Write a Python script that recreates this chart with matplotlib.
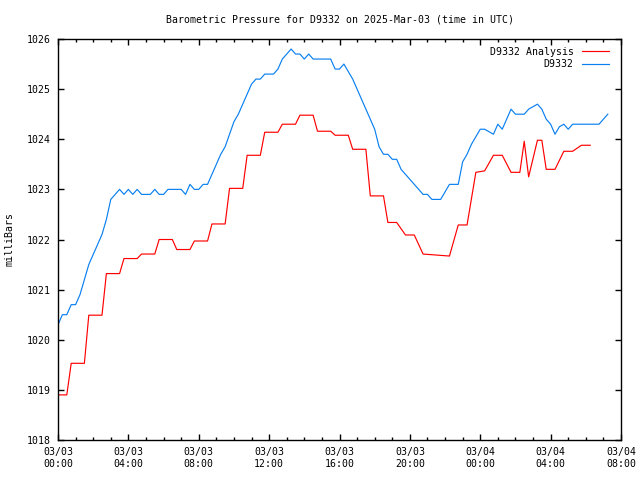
#!/usr/bin/env python3
"""
Barometric pressure, station D9332 - analysis vs observed, gnuplot-like look.
"""

import pandas as pd
import matplotlib
matplotlib.use("Agg")
import matplotlib.pyplot as plt
import matplotlib.dates as mdates

START = pd.Timestamp("2025-03-03 00:00")

# ---------------------------------------------------
# Data (hours since 2025-03-03 00:00 UTC, mb)
# ---------------------------------------------------
obs_hours = [0, 0.25, 0.5, 0.75, 1.0, 1.25, 1.5, 1.75, 2.0, 2.25, 2.5, 2.75, 3.0, 3.25,
             3.5, 3.75, 4.0, 4.25, 4.5, 4.75, 5.25, 5.5, 5.75, 6.0, 6.25, 7.0, 7.25, 7.5,
             7.75, 8.0, 8.25, 8.5, 8.75, 9.0, 9.25, 9.5, 9.75, 10.0, 10.25, 10.5, 10.75,
             11.0, 11.25, 11.5, 11.75, 12.25, 12.5, 12.75, 13.0, 13.25, 13.5, 13.75, 14.0,
             14.25, 14.5, 15.5, 15.75, 16.0, 16.25, 16.5, 16.75, 17.0, 17.25, 17.5, 17.75,
             18.0, 18.25, 18.5, 18.75, 19.0, 19.25, 19.5, 19.75, 20.0, 20.25, 20.5, 20.75,
             21.0, 21.25, 21.75, 22.0, 22.25, 22.75, 23.0, 23.25, 23.5, 23.75, 24.0, 24.25,
             24.5, 24.75, 25.0, 25.25, 25.5, 25.75, 26.0, 26.5, 26.75, 27.0, 27.25, 27.5,
             27.75, 28.0, 28.25, 28.5, 28.75, 29.0, 29.25, 30.75, 31.0, 31.25]
obs_mb = [1020.3, 1020.5, 1020.5, 1020.7, 1020.7, 1020.9, 1021.2, 1021.5, 1021.7, 1021.9,
          1022.1, 1022.4, 1022.8, 1022.9, 1023.0, 1022.9, 1023.0, 1022.9, 1023.0, 1022.9,
          1022.9, 1023.0, 1022.9, 1022.9, 1023.0, 1023.0, 1022.9, 1023.1, 1023.0, 1023.0,
          1023.1, 1023.1, 1023.3, 1023.5, 1023.7, 1023.85, 1024.1, 1024.35, 1024.5, 1024.7,
          1024.9, 1025.1, 1025.2, 1025.2, 1025.3, 1025.3, 1025.4, 1025.6, 1025.7, 1025.8,
          1025.7, 1025.7, 1025.6, 1025.7, 1025.6, 1025.6, 1025.4, 1025.4, 1025.5, 1025.35,
          1025.2, 1025.0, 1024.8, 1024.6, 1024.4, 1024.2, 1023.85, 1023.7, 1023.7, 1023.6,
          1023.6, 1023.4, 1023.3, 1023.2, 1023.1, 1023.0, 1022.9, 1022.9, 1022.8, 1022.8,
          1022.95, 1023.1, 1023.1, 1023.55, 1023.7, 1023.9, 1024.05, 1024.2, 1024.2,
          1024.15, 1024.1, 1024.3, 1024.2, 1024.4, 1024.6, 1024.5, 1024.5, 1024.6, 1024.65,
          1024.7, 1024.6, 1024.4, 1024.3, 1024.1, 1024.25, 1024.3, 1024.2, 1024.3, 1024.3,
          1024.4, 1024.5]

ana_hours = [0, 0.5, 0.75, 1.5, 1.75, 2.5, 2.75, 3.5, 3.75, 4.5, 4.75, 5.5, 5.75, 6.5, 6.75,
             7.5, 7.75, 8.5, 8.75, 9.5, 9.75, 10.5, 10.75, 11.5, 11.75, 12.5, 12.75, 13.5,
             13.75, 14.5, 14.75, 15.5, 15.75, 16.5, 16.75, 17.5, 17.75, 18.5, 18.75, 19.25,
             19.75, 20.25, 20.75, 21.5, 22.25, 22.75, 23.25, 23.75, 24.25, 24.75, 25.25,
             25.75, 26.25, 26.5, 26.75, 27.25, 27.5, 27.75, 28.25, 28.75, 29.25, 29.75, 30.25]
ana_mb = [1018.9, 1018.9, 1019.53, 1019.53, 1020.49, 1020.49, 1021.32, 1021.32, 1021.62,
          1021.62, 1021.71, 1021.71, 1022.0, 1022.0, 1021.8, 1021.8, 1021.97, 1021.97,
          1022.31, 1022.31, 1023.02, 1023.02, 1023.68, 1023.68, 1024.14, 1024.14, 1024.3,
          1024.3, 1024.48, 1024.48, 1024.16, 1024.16, 1024.08, 1024.08, 1023.8, 1023.8,
          1022.87, 1022.87, 1022.34, 1022.34, 1022.09, 1022.09, 1021.71, 1021.69, 1021.67,
          1022.29, 1022.29, 1023.34, 1023.37, 1023.68, 1023.68, 1023.34, 1023.34, 1023.96,
          1023.25, 1023.98, 1023.98, 1023.4, 1023.4, 1023.76, 1023.76, 1023.88, 1023.88]

y_ticks = [1018, 1019, 1020, 1021, 1022, 1023, 1024, 1025, 1026]

MONO = "DejaVu Sans Mono"
RED = "#ff0000"
BLUE = "#0a80f0"


def to_time(hours):
    return START + pd.to_timedelta(hours, unit="h")


def main():
    plt.rcParams["font.family"] = MONO
    plt.rcParams["font.size"] = 7.1

    fig = plt.figure(figsize=(6.4, 4.8), dpi=100)
    ax = fig.add_axes([58 / 640, 40 / 480, 563 / 640, 401 / 480])

    ax.plot(to_time(ana_hours), ana_mb, color=RED, lw=0.85, label="D9332 Analysis")
    ax.plot(to_time(obs_hours), obs_mb, color=BLUE, lw=0.85, label="D9332")

    ax.set_xlim(START, START + pd.Timedelta(hours=32))
    ax.set_ylim(1018, 1026)
    ax.set_yticks(y_ticks)
    ax.set_yticklabels([str(v) for v in y_ticks])

    ax.xaxis.set_major_locator(mdates.HourLocator(byhour=range(0, 24, 4)))
    ax.xaxis.set_minor_locator(mdates.HourLocator())
    ax.xaxis.set_major_formatter(mdates.DateFormatter("%m/%d\n%H:%M"))

    ax.tick_params(which="both", direction="in", top=True, right=True, width=1)
    ax.tick_params(which="major", length=4.5, pad=5)
    ax.tick_params(which="minor", length=2.5)
    for sp in ax.spines.values():
        sp.set_linewidth(1.0)

    ax.set_ylabel("milliBars", labelpad=9)
    # gnuplot centres the title over the plot area, not the figure
    ax.text(0.5, 1 + 19 / 401, "Barometric Pressure for D9332 on 2025-Mar-03 (time in UTC)",
            transform=ax.transAxes, ha="center", va="center")

    leg = ax.legend(loc="upper right", bbox_to_anchor=(1.0, 1 + 4 / 401),
                    frameon=False, markerfirst=False,
                    handlelength=2.8, borderaxespad=0.8, labelspacing=0.25,
                    handletextpad=0.8)
    for t in leg.get_texts():
        t.set_ha("right")

    fig.savefig("out.png", dpi=100)


if __name__ == "__main__":
    main()
